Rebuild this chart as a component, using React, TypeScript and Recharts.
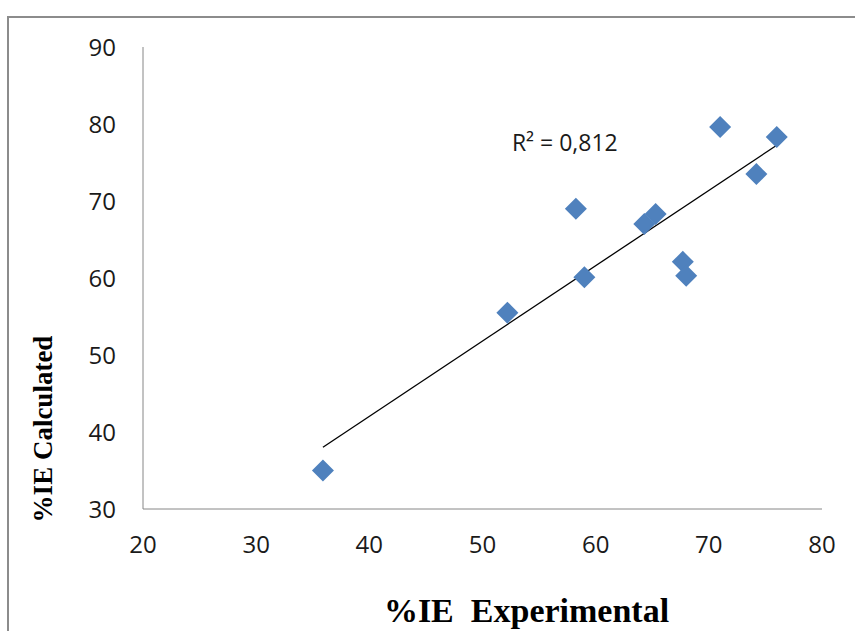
import React from 'react';
import { ScatterChart, Scatter, XAxis, YAxis, ReferenceDot } from 'recharts';

// %IE experimental vs calculated
const experimental = [35.9, 52.2, 58.25, 59.0, 64.3, 65.3, 67.7, 68.0, 71.0, 74.2, 76.0];
const calculated = [35.0, 55.5, 69.0, 60.1, 67.0, 68.3, 62.1, 60.3, 79.6, 73.5, 78.3];
const xTicks = [20, 30, 40, 50, 60, 70, 80];
const yTicks = [30, 40, 50, 60, 70, 80, 90];
const r2Label = 'R\u00B2 = 0,812';

const points = experimental.map((x, i) => ({ x, y: calculated[i] }));

// least squares trendline, like Excel's linear trendline
const n = points.length;
const mx = experimental.reduce((a, b) => a + b, 0) / n;
const my = calculated.reduce((a, b) => a + b, 0) / n;
let sxy = 0;
let sxx = 0;
points.forEach((p) => {
  sxy += (p.x - mx) * (p.y - my);
  sxx += (p.x - mx) * (p.x - mx);
});
const slope = sxy / sxx;
const intercept = my - slope * mx;
const xMin = Math.min(...experimental);
const xMax = Math.max(...experimental);
const trend = [
  { x: xMin, y: intercept + slope * xMin },
  { x: xMax, y: intercept + slope * xMax },
];

const BLUE = '#4F81BD';
const AXIS = '#868686';
const tickStyle = { fill: '#1a1a1a', fontSize: 24, fontFamily: 'Open Sans' };

const Diamond = (props: any) => {
  const { cx, cy } = props;
  const h = 11;
  return <polygon points={`${cx},${cy - h} ${cx + h},${cy} ${cx},${cy + h} ${cx - h},${cy}`} fill={BLUE} />;
};

const XLabel = (props: any) => {
  const vb = props.viewBox;
  return (
    <text
      x={vb.x + vb.width / 2 + 44}
      y={vb.y + vb.height - 9}
      textAnchor="middle"
      fontFamily="'Liberation Serif', 'Times New Roman', serif"
      fontWeight="bold"
      fontSize={34}
      fill="#000"
      style={{ whiteSpace: 'pre' }}
    >
      {'%IE  Experimental'}
    </text>
  );
};

const YLabel = (props: any) => {
  const vb = props.viewBox;
  const cx = vb.x + 52;
  const cy = vb.y + vb.height / 2 + 151;
  return (
    <text
      x={cx}
      y={cy}
      transform={`rotate(-90, ${cx}, ${cy})`}
      textAnchor="middle"
      fontFamily="'Liberation Serif', 'Times New Roman', serif"
      fontWeight="bold"
      fontSize={27}
      fill="#000"
    >
      %IE Calculated
    </text>
  );
};

const R2Label = (props: any) => {
  const vb = props.viewBox;
  return (
    <text x={vb.x} y={vb.y + 8} fontFamily="'Open Sans'" fontSize={23} fill="#1a1a1a">
      {r2Label}
    </text>
  );
};

export default function App() {
  return (
    <div style={{ position: 'absolute', left: 0, top: 0, width: 855, height: 631, overflow: 'hidden', background: '#fff' }}>
      <div
        style={{
          position: 'absolute',
          left: 7,
          top: 16,
          width: 900,
          height: 700,
          border: '2px solid #8c8c8c',
        }}
      />
      <div style={{ position: 'absolute', left: 0, top: 0 }}>
        <ScatterChart width={855} height={631} margin={{ top: 47, right: 33, bottom: 0, left: 0 }}>
          <XAxis
            type="number"
            dataKey="x"
            domain={[20, 80]}
            ticks={xTicks}
            interval={0}
            stroke={AXIS}
            tickLine={false}
            tickSize={0}
            tickMargin={27}
            tick={tickStyle}
            height={122}
            label={<XLabel />}
          />
          <YAxis
            type="number"
            dataKey="y"
            domain={[30, 90]}
            ticks={yTicks}
            interval={0}
            stroke={AXIS}
            tickLine={false}
            tickSize={0}
            tickMargin={27}
            tick={tickStyle}
            width={143}
            label={<YLabel />}
          />
          <Scatter
            data={trend}
            line={{ stroke: '#000', strokeWidth: 1.3 }}
            shape={() => <g />}
            isAnimationActive={false}
          />
          <Scatter data={points} shape={<Diamond />} isAnimationActive={false} />
          <ReferenceDot x={52.6} y={77.5} r={0} fill="none" stroke="none" label={<R2Label />} />
        </ScatterChart>
      </div>
    </div>
  );
}
